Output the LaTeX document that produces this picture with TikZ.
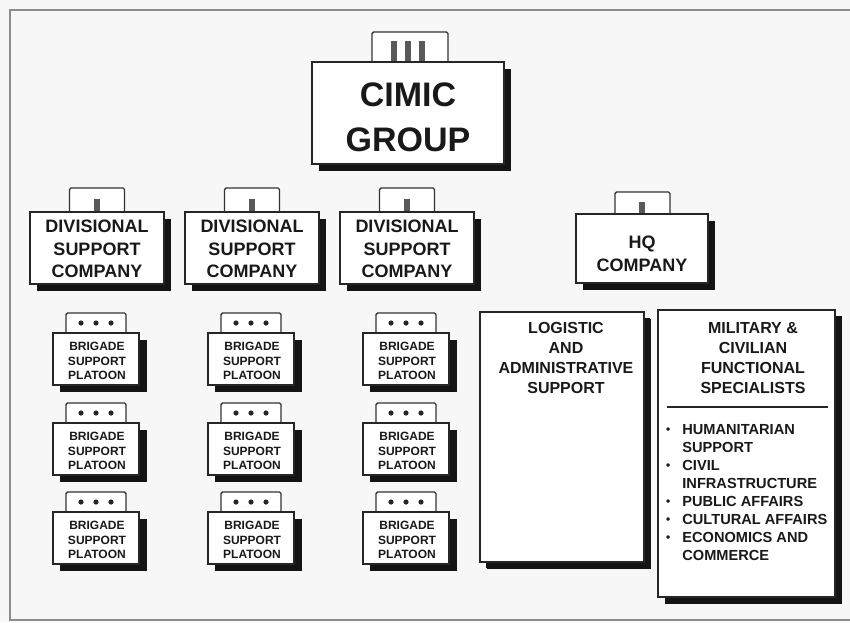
\documentclass[tikz,border=0pt]{standalone}
\usepackage{fontspec}
\setmainfont{Liberation Sans}
\usetikzlibrary{shadows}
\newcommand{\mybul}{\raisebox{1pt}{\fontsize{12}{12}\selectfont\textbullet}}
\begin{document}
\begin{tikzpicture}[x=1pt,y=-1pt,
  unitbox/.style={draw=black!85,line width=1.3pt,fill=white,inner sep=0pt,
     drop shadow={shadow xshift=7pt,shadow yshift=-7pt,fill=black!92,opacity=1}},
  tabbox/.style={draw=black!80,line width=1.4pt,fill=white,rounded corners=1.5pt},
  bar/.style={fill=black!65},
  dot/.style={fill=black!85},
  lbl/.style={inner sep=0pt,align=center,text=black!90},
  bigtxt/.style={lbl,font=\fontsize{34}{45}\selectfont\bfseries},
  divtxt/.style={lbl,font=\fontsize{18}{22.5}\selectfont\bfseries},
  brgtxt/.style={lbl,font=\fontsize{12}{14.5}\selectfont\bfseries},
  midtxt/.style={lbl,font=\fontsize{16}{20}\selectfont\bfseries},
]
\useasboundingbox (0,0) rectangle (850,622);
\fill[black!3] (0,0) rectangle (850,622);
\draw[black!45,line width=1.6pt] (852,10) -- (10,10) -- (10,620) -- (852,620);

% ---------- CIMIC GROUP ----------
\draw[tabbox] (372,62) -- (372,32) -- (448,32) -- (448,62);
\foreach \bx in {394,408,422} \fill[bar] (\bx-3,41) rectangle (\bx+3,62);
\node[unitbox,minimum width=192pt,minimum height=102pt] (cimic) at (408,113) {};
\node[bigtxt,anchor=north] (cimict) at (408,83) {CIMIC\\GROUP};

% ---------- Divisional support companies ----------
\foreach \cx/\nm in {97/d1,252/d2,407/d3}{
  \draw[tabbox] (\cx-27.5,212) -- (\cx-27.5,188) -- (\cx+27.5,188) -- (\cx+27.5,212);
  \fill[bar] (\cx-3,199) rectangle (\cx+3,212);
  \node[unitbox,minimum width=134pt,minimum height=72pt] (\nm) at (\cx,248) {};
  \node[divtxt,anchor=north] (\nm t) at (\cx,220) {DIVISIONAL\\SUPPORT\\COMPANY};
}

% ---------- Brigade support platoons ----------
\foreach \cx/\cn in {96/1,251/2,406/3}{
  \foreach \ty/\rn in {333/1,423/2,512/3}{
    \draw[tabbox] (\cx-30,\ty) -- (\cx-30,\ty-20) -- (\cx+30,\ty-20) -- (\cx+30,\ty);
    \foreach \dx in {-15,0,15} \fill[dot] (\cx+\dx,\ty-10) circle (2.6pt);
    \node[unitbox,minimum width=86pt,minimum height=52pt,
          drop shadow={shadow xshift=8pt,shadow yshift=-7pt,fill=black!92,opacity=1}]
          (b\cn\rn) at (\cx,\ty+26) {};
    \node[brgtxt,anchor=north] (b\cn\rn t) at (\cx+1,\ty+9) {BRIGADE\\SUPPORT\\PLATOON};
  }
}

% ---------- HQ company ----------
\draw[tabbox] (615,214) -- (615,192) -- (670,192) -- (670,214);
\fill[bar] (639,202) rectangle (645,214);
\node[unitbox,minimum width=132pt,minimum height=69pt] (hq) at (642,248.5) {};
\node[divtxt,anchor=north,font=\fontsize{18}{23}\selectfont\bfseries] (hqt) at (642,236) {HQ\\COMPANY};

% ---------- Logistic and administrative support ----------
\node[unitbox,minimum width=164pt,minimum height=250pt,
      drop shadow={shadow xshift=6pt,shadow yshift=-6pt,fill=black!92,opacity=1}] (log) at (562,437) {};
\node[midtxt,anchor=north] (logt) at (566,322) {LOGISTIC\\AND\\ADMINISTRATIVE\\SUPPORT};

% ---------- Military & civilian functional specialists ----------
\node[unitbox,minimum width=177pt,minimum height=287pt,
      drop shadow={shadow xshift=7pt,shadow yshift=-6pt,fill=black!92,opacity=1}] (mil) at (746.5,453.5) {};
\node[midtxt,anchor=north] (milt) at (753,322) {MILITARY \&\\CIVILIAN\\FUNCTIONAL\\SPECIALISTS};
\coordinate (divl) at (667,407);
\coordinate (divr) at (828,407);
\draw[black!85,line width=1.1pt] (divl) -- (divr);
\node[lbl,anchor=north west,align=left,font=\fontsize{14.6}{18}\selectfont\bfseries] (milb) at (666,422)
{\begin{tabular}{@{}l@{\hspace{12pt}}l@{}}
\mybul & HUMANITARIAN\\
 & SUPPORT\\
\mybul & CIVIL\\
 & INFRASTRUCTURE\\
\mybul & PUBLIC AFFAIRS\\
\mybul & CULTURAL AFFAIRS\\
\mybul & ECONOMICS AND\\
 & COMMERCE
\end{tabular}};
\end{tikzpicture}
\end{document}
